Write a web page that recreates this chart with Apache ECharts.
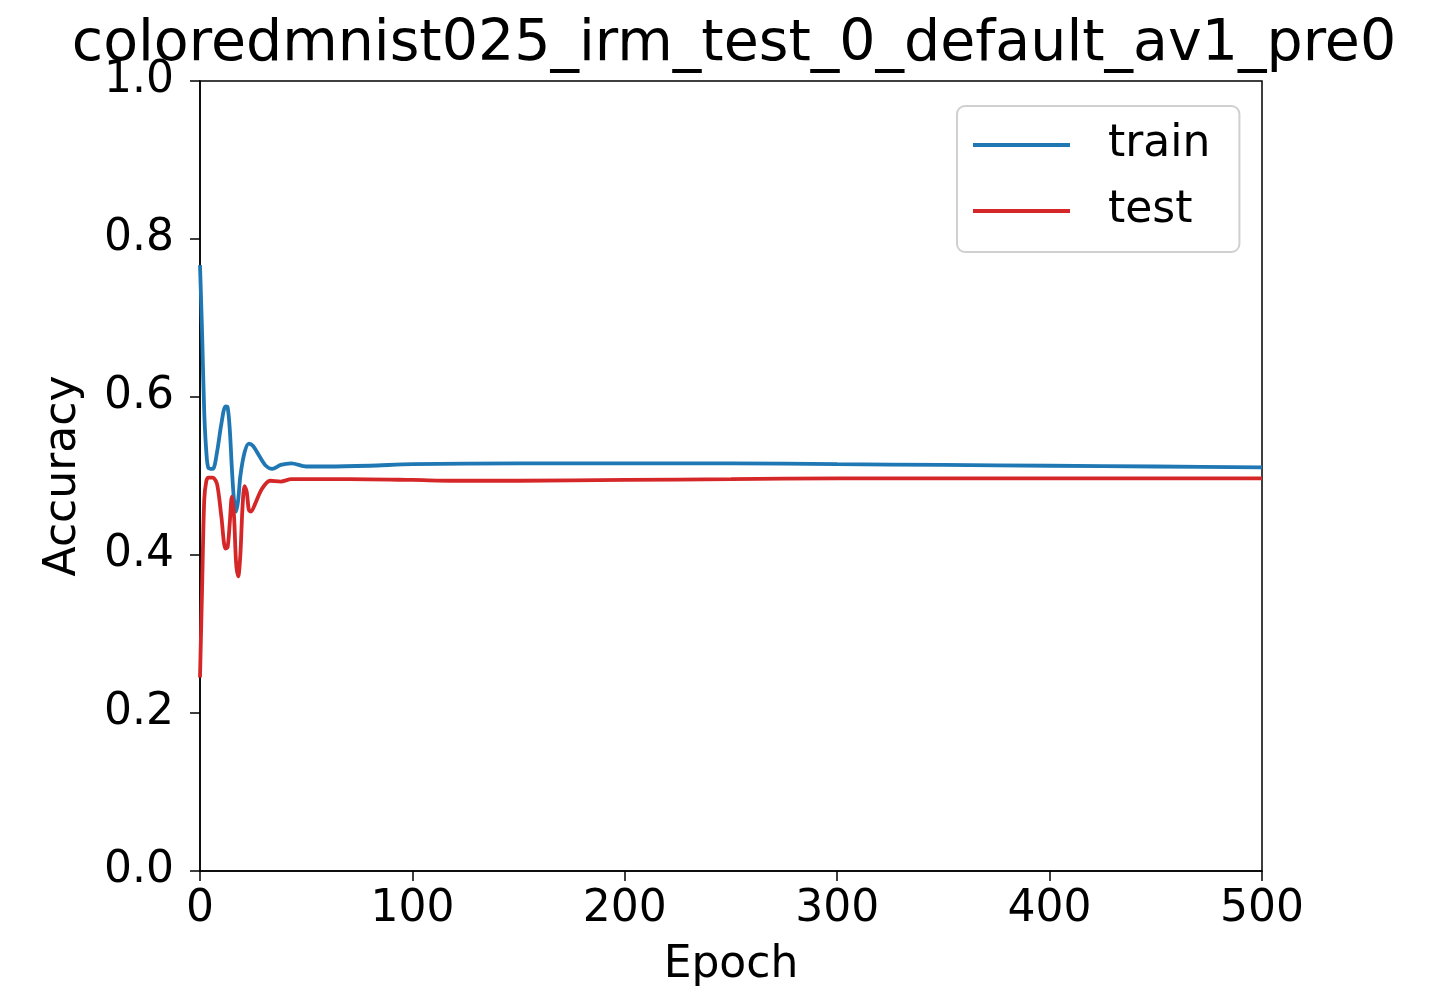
<!DOCTYPE html>
<html>
<head>
<meta charset="utf-8">
<script src="https://cdn.jsdelivr.net/npm/echarts@6/dist/echarts.min.js"></script>
<style>
  html, body { margin: 0; padding: 0; background: #fff; }
  #main { width: 1439px; height: 993px; }
</style>
</head>
<body>
<div id="main"></div>
<script>
// data
var trainEpochs = [0, 1, 2, 3, 4, 6, 8, 10, 12, 13, 14, 15, 16, 17, 18, 19, 21, 23, 25, 28, 31, 34, 38, 43, 50, 60, 80, 100, 150, 200, 250, 300, 350, 400, 450, 500];
var trainAcc = [0.767, 0.68, 0.58, 0.53, 0.51, 0.509, 0.53, 0.565, 0.588, 0.587, 0.56, 0.51, 0.47, 0.455, 0.47, 0.50, 0.53, 0.541, 0.538, 0.525, 0.513, 0.509, 0.514, 0.516, 0.512, 0.512, 0.513, 0.515, 0.516, 0.516, 0.516, 0.515, 0.514, 0.513, 0.512, 0.511];

var testEpochs = [0, 1, 2, 3, 4, 6, 8, 10, 12, 13, 14, 15, 16, 17, 18, 19, 20, 21, 22, 23, 24, 26, 29, 33, 38, 43, 50, 70, 100, 120, 150, 200, 250, 300, 400, 500];
var testAcc = [0.245, 0.36, 0.47, 0.494, 0.498, 0.498, 0.49, 0.45, 0.408, 0.41, 0.44, 0.474, 0.45, 0.39, 0.373, 0.40, 0.46, 0.487, 0.48, 0.457, 0.455, 0.465, 0.483, 0.494, 0.493, 0.496, 0.496, 0.496, 0.495, 0.494, 0.494, 0.495, 0.496, 0.497, 0.497, 0.497];

var xTicks = [0, 100, 200, 300, 400, 500];
var yTicks = [0.0, 0.2, 0.4, 0.6, 0.8, 1.0];

function pairs(xs, ys) {
    return xs.map(function (x, i) { return [x, ys[i]]; });
}

var font = 'DejaVu Sans';
var myChart = echarts.init(document.getElementById('main'));
var option = {
    animation: false,
    backgroundColor: '#fff',
    textStyle: { fontFamily: font },
    title: {
        text: 'coloredmnist025_irm_test_0_default_av1_pre0',
        left: 729,
        textAlign: 'center',
        top: 12,
        textStyle: { fontFamily: font, fontSize: 57, fontWeight: 'normal', color: '#000' }
    },
    legend: {
        orient: 'vertical',
        left: 957,
        top: 106,
        padding: [14, 29, 16, 16],
        itemGap: 16,
        itemWidth: 97,
        itemHeight: 4,
        backgroundColor: '#fff',
        borderColor: '#d0d0d0',
        borderWidth: 2,
        borderRadius: 8,
        data: [
            { name: 'train', icon: 'rect' },
            { name: 'test', icon: 'rect' }
        ],
        textStyle: { fontFamily: font, fontSize: 44, color: '#000', lineHeight: 50, padding: [0, 0, 0, 33] }
    },
    grid: {
        left: 200, right: 177, top: 81, bottom: 119,
        show: true, borderColor: '#000', borderWidth: 1.5, containLabel: false
    },
    xAxis: {
        type: 'value',
        min: xTicks[0],
        max: xTicks[xTicks.length - 1],
        interval: 100,
        name: 'Epoch',
        nameLocation: 'middle',
        nameGap: 73,
        nameTextStyle: { fontFamily: font, fontSize: 44, color: '#000' },
        axisLine: { show: true, lineStyle: { color: '#000', width: 1.5 } },
        axisTick: { show: true, inside: false, length: 10, lineStyle: { color: '#000', width: 1.5 } },
        axisLabel: { fontFamily: font, fontSize: 44, color: '#000', margin: 17 },
        splitLine: { show: false }
    },
    yAxis: {
        type: 'value',
        min: yTicks[0],
        max: yTicks[yTicks.length - 1],
        interval: 0.2,
        name: 'Accuracy',
        nameLocation: 'middle',
        nameGap: 114,
        nameTextStyle: { fontFamily: font, fontSize: 44, color: '#000' },
        axisLine: { show: true, lineStyle: { color: '#000', width: 1.5 } },
        axisTick: { show: true, inside: false, length: 10, lineStyle: { color: '#000', width: 1.5 } },
        axisLabel: {
            fontFamily: font, fontSize: 44, color: '#000', margin: 26,
            formatter: function (v) { return v.toFixed(1); }
        },
        splitLine: { show: false }
    },
    series: [
        {
            name: 'train',
            type: 'line',
            data: pairs(trainEpochs, trainAcc),
            showSymbol: false,
            smooth: 0.3,
            color: '#1f77b4',
            lineStyle: { color: '#1f77b4', width: 3.8 }
        },
        {
            name: 'test',
            type: 'line',
            data: pairs(testEpochs, testAcc),
            showSymbol: false,
            smooth: 0.3,
            color: '#d62728',
            lineStyle: { color: '#d62728', width: 3.8 }
        }
    ]
};
myChart.setOption(option);
</script>
</body>
</html>
